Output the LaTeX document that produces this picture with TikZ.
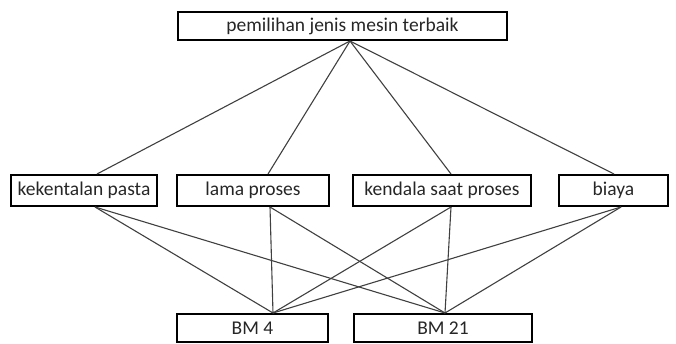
\documentclass[tikz,border=0pt]{standalone}
\usepackage{fontspec}
\setmainfont{Carlito}
\begin{document}
\begin{tikzpicture}[x=1pt,y=-1pt,
  boxnode/.style={draw=black,line width=2pt,inner sep=0pt,font=\fontsize{19.5}{22}\selectfont,text=black!85},
  link/.style={draw=black!75,line width=1.1pt}]
\useasboundingbox (0,0) rectangle (676,343);
\node[boxnode,minimum width=329pt,minimum height=28pt] (top) at (342.5,26) {pemilihan jenis mesin terbaik};
\node[boxnode,minimum width=146pt,minimum height=31pt] (kp) at (84,190.5) {kekentalan pasta};
\node[boxnode,minimum width=152pt,minimum height=31pt] (lp) at (253,190.5) {lama proses};
\node[boxnode,minimum width=178pt,minimum height=31pt] (ks) at (442,190.5) {kendala saat proses};
\node[boxnode,minimum width=109pt,minimum height=31pt] (by) at (613.5,190.5) {biaya};
\node[boxnode,minimum width=151pt,minimum height=28pt] (b4) at (252.5,328) {BM 4};
\node[boxnode,minimum width=178pt,minimum height=28pt] (b21) at (443,328) {BM 21};
\coordinate (ta) at ([xshift=7.5pt]top.south);
\coordinate (kpt) at ([xshift=13pt]kp.north);
\coordinate (kpb) at ([xshift=11pt]kp.south);
\coordinate (lpt) at ([xshift=15pt]lp.north);
\coordinate (lpb) at ([xshift=17pt]lp.south);
\coordinate (kst) at ([xshift=9pt]ks.north);
\coordinate (ksb) at ([xshift=9pt]ks.south);
\coordinate (byt) at ([xshift=0.5pt]by.north);
\coordinate (byb) at ([xshift=7.5pt]by.south);
\coordinate (b4t) at ([xshift=20.5pt]b4.north);
\coordinate (b21t) at ([xshift=2pt]b21.north);
\foreach \m in {kpt,lpt,kst,byt} \draw[link] (ta) -- (\m);
\foreach \m in {kpb,lpb,ksb,byb} {\draw[link] (\m) -- (b4t); \draw[link] (\m) -- (b21t);}
\end{tikzpicture}
\end{document}
